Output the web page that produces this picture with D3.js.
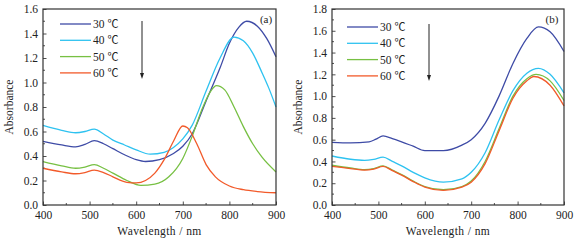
<!DOCTYPE html>
<html>
<head>
<meta charset="utf-8">
<script src="https://d3js.org/d3.v7.min.js"></script>
<style>
body { margin: 0; background: #fff; }
svg { display: block; font-family: 'Liberation Serif', 'DejaVu Serif', serif; }
</style>
</head>
<body>
<div id="chart"></div>
<script>
// series labels and colours
var labels = ["30", "40", "50", "60"];
var unit = "\u2103";
var colors = ["#3e4ba6", "#2ec2f0", "#77c043", "#f25a2a"];

// panel (a) readings: wavelength / absorbance
var wlA = [
  [400, 440, 470, 490, 510, 530, 550, 575, 600, 620, 650, 680, 700, 720, 750, 780, 800, 820, 837, 860, 880, 900],
  [400, 440, 470, 490, 510, 530, 550, 575, 600, 630, 660, 680, 700, 720, 750, 780, 810, 830, 850, 870, 885, 900],
  [400, 440, 470, 490, 510, 530, 550, 580, 610, 640, 670, 700, 720, 740, 760, 772, 790, 810, 830, 850, 870, 900],
  [400, 440, 470, 490, 510, 530, 550, 580, 600, 620, 640, 660, 680, 700, 710, 730, 750, 770, 800, 830, 860, 900]
];
var absA = [
  [0.52, 0.49, 0.475, 0.495, 0.525, 0.50, 0.46, 0.41, 0.37, 0.355, 0.37, 0.42, 0.48, 0.58, 0.85, 1.12, 1.32, 1.45, 1.50, 1.46, 1.36, 1.21],
  [0.65, 0.61, 0.59, 0.60, 0.62, 0.58, 0.53, 0.49, 0.45, 0.415, 0.43, 0.47, 0.54, 0.65, 0.93, 1.20, 1.37, 1.34, 1.24, 1.08, 0.95, 0.80],
  [0.355, 0.32, 0.30, 0.31, 0.33, 0.30, 0.26, 0.20, 0.16, 0.17, 0.23, 0.38, 0.56, 0.77, 0.93, 0.975, 0.94, 0.80, 0.64, 0.50, 0.39, 0.27],
  [0.30, 0.27, 0.255, 0.265, 0.285, 0.265, 0.23, 0.185, 0.18, 0.20, 0.26, 0.37, 0.52, 0.645, 0.63, 0.50, 0.33, 0.23, 0.155, 0.125, 0.11, 0.10]
];

// panel (b) readings
var wlB = [
  [400, 440, 480, 495, 510, 530, 550, 575, 600, 640, 680, 700, 730, 760, 790, 820, 845, 870, 900],
  [400, 440, 470, 490, 510, 530, 550, 575, 600, 640, 680, 700, 730, 760, 790, 820, 845, 870, 900],
  [400, 440, 470, 490, 510, 530, 550, 575, 600, 640, 680, 700, 730, 760, 790, 820, 840, 870, 900],
  [400, 440, 470, 490, 510, 530, 550, 575, 600, 640, 680, 700, 730, 760, 790, 820, 835, 870, 900]
];
var absB = [
  [0.575, 0.57, 0.58, 0.605, 0.635, 0.61, 0.58, 0.54, 0.50, 0.50, 0.55, 0.60, 0.75, 1.00, 1.30, 1.53, 1.635, 1.59, 1.41],
  [0.45, 0.42, 0.41, 0.42, 0.44, 0.40, 0.36, 0.30, 0.25, 0.21, 0.24, 0.30, 0.48, 0.78, 1.05, 1.21, 1.255, 1.20, 1.03],
  [0.365, 0.34, 0.325, 0.335, 0.36, 0.32, 0.28, 0.22, 0.17, 0.14, 0.17, 0.22, 0.40, 0.70, 1.00, 1.16, 1.20, 1.14, 0.96],
  [0.355, 0.335, 0.32, 0.33, 0.355, 0.315, 0.275, 0.215, 0.165, 0.135, 0.165, 0.21, 0.38, 0.68, 0.98, 1.14, 1.18, 1.10, 0.91]
];

var xTicks = [400, 500, 600, 700, 800, 900];
var yTicksA = [0, 0.2, 0.4, 0.6, 0.8, 1.0, 1.2, 1.4, 1.6];
var yTicksB = [0, 0.2, 0.4, 0.6, 0.8, 1.0, 1.2, 1.4, 1.6, 1.8];

var svg = d3.select("#chart").append("svg")
  .attr("width", 581).attr("height", 245);

function panel(opt) {
  var x = d3.scaleLinear().domain([400, 900]).range([opt.left, opt.right]);
  var y = d3.scaleLinear().domain([0, opt.ymax]).range([205, 9]);
  var g = svg.append("g");

  // minor ticks
  var xMinor = d3.range(450, 900, 100);
  g.selectAll(".xm").data(xMinor).enter().append("line")
    .attr("x1", function(d) { return x(d); }).attr("x2", function(d) { return x(d); })
    .attr("y1", 205).attr("y2", 203)
    .attr("stroke", "#222").attr("stroke-width", 0.8);
  var yMinor = d3.range(0.1, opt.ymax, 0.2);
  g.selectAll(".ym").data(yMinor).enter().append("line")
    .attr("x1", opt.left).attr("x2", opt.left + 2)
    .attr("y1", function(d) { return y(d); }).attr("y2", function(d) { return y(d); })
    .attr("stroke", "#222").attr("stroke-width", 0.8);

  var xAxis = g.append("g").attr("transform", "translate(0,205)")
    .call(d3.axisBottom(x).tickValues(xTicks).tickSize(-3.5).tickPadding(6).tickFormat(d3.format("d")));
  var yAxis = g.append("g").attr("transform", "translate(" + opt.left + ",0)")
    .call(d3.axisLeft(y).tickValues(opt.yTicks).tickSize(-3.5).tickPadding(5).tickFormat(d3.format(".1f")));
  [xAxis, yAxis].forEach(function(a) {
    a.select(".domain").remove();
    a.selectAll("line").attr("stroke", "#222").attr("stroke-width", 0.8);
    a.selectAll("text").attr("font-family", "'Liberation Serif', serif")
      .attr("font-size", 11.5).attr("fill", "#222");
  });

  // curves
  var line = d3.line().curve(d3.curveMonotoneX)
    .x(function(d) { return x(d[0]); }).y(function(d) { return y(d[1]); });
  opt.wl.forEach(function(w, i) {
    var pts = w.map(function(v, j) { return [v, opt.abs[i][j]]; });
    g.append("path").attr("d", line(pts))
      .attr("fill", "none").attr("stroke", colors[i]).attr("stroke-width", 1.3);
  });

  // frame
  g.append("rect").attr("x", opt.left).attr("y", 9)
    .attr("width", opt.right - opt.left).attr("height", 196)
    .attr("fill", "none").attr("stroke", "#333").attr("stroke-width", 1.2);

  // legend
  labels.forEach(function(l, i) {
    var ly = opt.legY + i * 16.3;
    g.append("line").attr("x1", opt.legX).attr("x2", opt.legX + 31)
      .attr("y1", ly).attr("y2", ly)
      .attr("stroke", colors[i]).attr("stroke-width", 1.3);
    var t = g.append("text").attr("x", opt.legX + 33).attr("y", ly + 4)
      .attr("font-size", 11.5).attr("fill", "#222");
    t.append("tspan").text(l + " ");
    t.append("tspan").attr("font-family", "'Noto Sans CJK SC', sans-serif")
      .attr("font-size", 11).text(unit);
  });

  // arrow
  g.append("line").attr("x1", opt.arrX).attr("x2", opt.arrX)
    .attr("y1", opt.arrY0).attr("y2", opt.arrY1 - 5)
    .attr("stroke", "#222").attr("stroke-width", 1);
  g.append("path")
    .attr("d", "M" + (opt.arrX - 2) + "," + (opt.arrY1 - 6) + "L" + (opt.arrX + 2) + "," + (opt.arrY1 - 6) + "L" + opt.arrX + "," + opt.arrY1 + "Z")
    .attr("fill", "#222");

  // panel tag
  g.append("text").attr("x", opt.tagX).attr("y", 23).attr("text-anchor", "middle")
    .attr("font-size", 11).attr("fill", "#222").text(opt.tag);

  // axis titles
  g.append("text").attr("x", (opt.left + opt.right) / 2).attr("y", 235)
    .attr("text-anchor", "middle").attr("font-size", 11.5).attr("fill", "#222")
    .attr("letter-spacing", 0.4)
    .text("Wavelength / nm");
  g.append("text").attr("transform", "translate(" + (opt.left - 30) + ",107) rotate(-90)")
    .attr("text-anchor", "middle").attr("font-size", 11.5).attr("fill", "#222")
    .text("Absorbance");
}

panel({ left: 43, right: 276, ymax: 1.6, yTicks: yTicksA, wl: wlA, abs: absA,
  legX: 60, legY: 24, arrX: 142, arrY0: 21, arrY1: 79, tagX: 266, tag: "(a)" });
panel({ left: 332, right: 564, ymax: 1.8, yTicks: yTicksB, wl: wlB, abs: absB,
  legX: 347, legY: 27, arrX: 429, arrY0: 24, arrY1: 81, tagX: 552, tag: "(b)" });
</script>
</body>
</html>
